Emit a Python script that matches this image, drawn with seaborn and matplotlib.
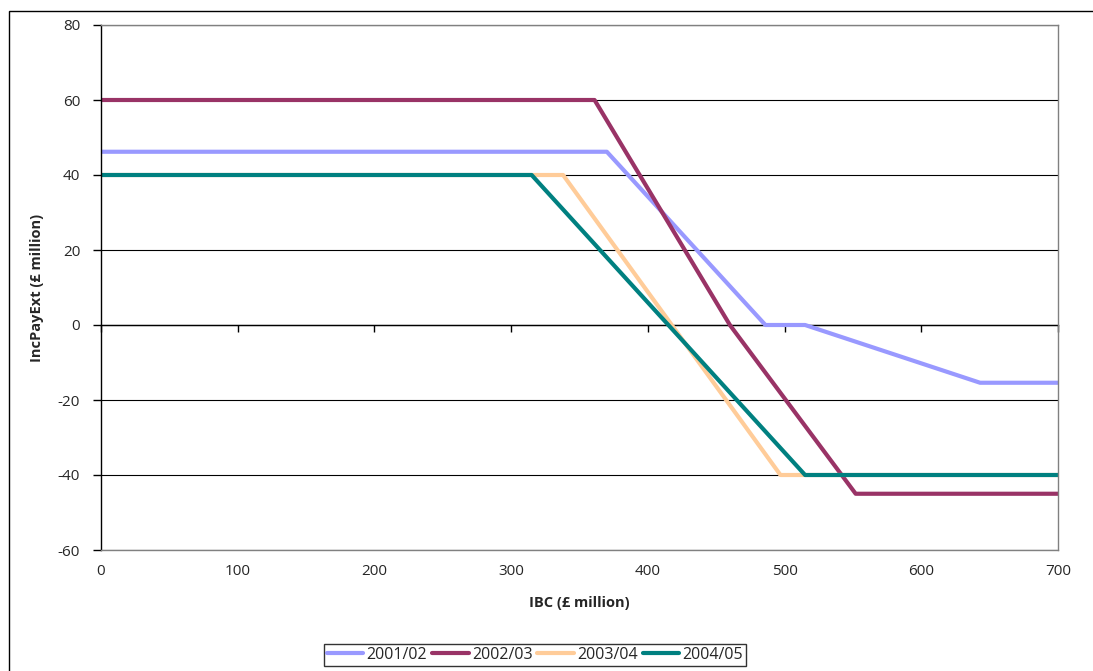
import matplotlib
matplotlib.use("Agg")
import matplotlib.pyplot as plt
import seaborn as sns
import pandas as pd
from matplotlib.patches import Rectangle

# ---- data ----
series_names = ["2001/02", "2002/03", "2003/04", "2004/05"]
x_2001 = [0, 150, 200, 370, 486, 515, 643, 700]
y_2001 = [46.2, 46.2, 46.2, 46.2, 0, 0, -15.4, -15.4]
x_2002 = [0, 150, 200, 361, 460, 552, 600, 700]
y_2002 = [60, 60, 60, 60, 0, -45, -45, -45]
x_2003 = [0, 150, 200, 338, 497, 600, 700]
y_2003 = [40, 40, 40, 40, -40, -40, -40]
x_2004 = [0, 150, 200, 315, 515, 600, 700]
y_2004 = [40, 40, 40, 40, -40, -40, -40]
colors = ["#9999FF", "#993366", "#FFCC99", "#008080"]
x_ticks = [0, 100, 200, 300, 400, 500, 600, 700]
y_ticks = [-60, -40, -20, 0, 20, 40, 60, 80]

frames = []
for name, xs, ys in zip(series_names,
                        [x_2001, x_2002, x_2003, x_2004],
                        [y_2001, y_2002, y_2003, y_2004]):
    frames.append(pd.DataFrame({"IBC": xs, "IncPayExt": ys, "Year": name}))
df = pd.concat(frames, ignore_index=True)

sns.set_theme(style="white")
plt.rcParams["font.family"] = ["Open Sans", "DejaVu Sans"]
plt.rcParams["axes.unicode_minus"] = False

fig = plt.figure(figsize=(10.93, 6.71), dpi=100)
ax = fig.add_axes([101/1093, 1-550/671, (1058-101)/1093, (550-25)/671])

sns.lineplot(data=df, x="IBC", y="IncPayExt", hue="Year", hue_order=series_names,
             palette=colors, sort=False, estimator=None, units="Year",
             linewidth=3, ax=ax, legend=True)

ax.set_xlim(0, 700)
ax.set_ylim(-60, 80)
ax.set_xticks(x_ticks)
ax.set_yticks(y_ticks)
ax.yaxis.grid(True, color="black", linewidth=0.8)
ax.xaxis.grid(False)
ax.set_axisbelow(True)

for s in ["top", "right", "bottom"]:
    ax.spines[s].set_color("#808080")
    ax.spines[s].set_linewidth(1)
ax.spines["left"].set_color("black")
ax.spines["left"].set_linewidth(1)

ax.tick_params(axis="y", which="major", direction="out", length=6, width=1,
               color="black", labelsize=11, pad=9, left=True)
ax.tick_params(axis="x", which="major", length=0, labelsize=11, pad=10)

# x axis crossing at y=0 with tick marks
sec = ax.secondary_xaxis(60/140)
sec.set_xticks(x_ticks)
sec.set_xticklabels([])
sec.tick_params(direction="out", length=5, width=1, color="black")
sec.spines["bottom"].set_color("black")
sec.spines["bottom"].set_linewidth(1)

ax.set_xlabel("IBC (£ million)", fontsize=10.5, fontweight="bold", labelpad=12)
ax.set_ylabel("IncPayExt (£ million)", fontsize=10.5, fontweight="bold", labelpad=10)

handles, labels = ax.get_legend_handles_labels()
ax.get_legend().remove()
leg = fig.legend(handles, labels, loc="center", bbox_to_anchor=(535/1093, 1-655/671),
                 ncol=4, frameon=True, fancybox=False, fontsize=11.5,
                 handlelength=2.3, handletextpad=0.2, columnspacing=0.3,
                 borderpad=0.2, borderaxespad=0)
leg.get_frame().set_edgecolor("black")
leg.get_frame().set_linewidth(1)

fig.patches.append(Rectangle((8.5/1093, -0.05), 1.2, 1-10.5/671+0.05,
                             transform=fig.transFigure, fill=False,
                             edgecolor="black", linewidth=1))

fig.savefig("out.png", dpi=100)
